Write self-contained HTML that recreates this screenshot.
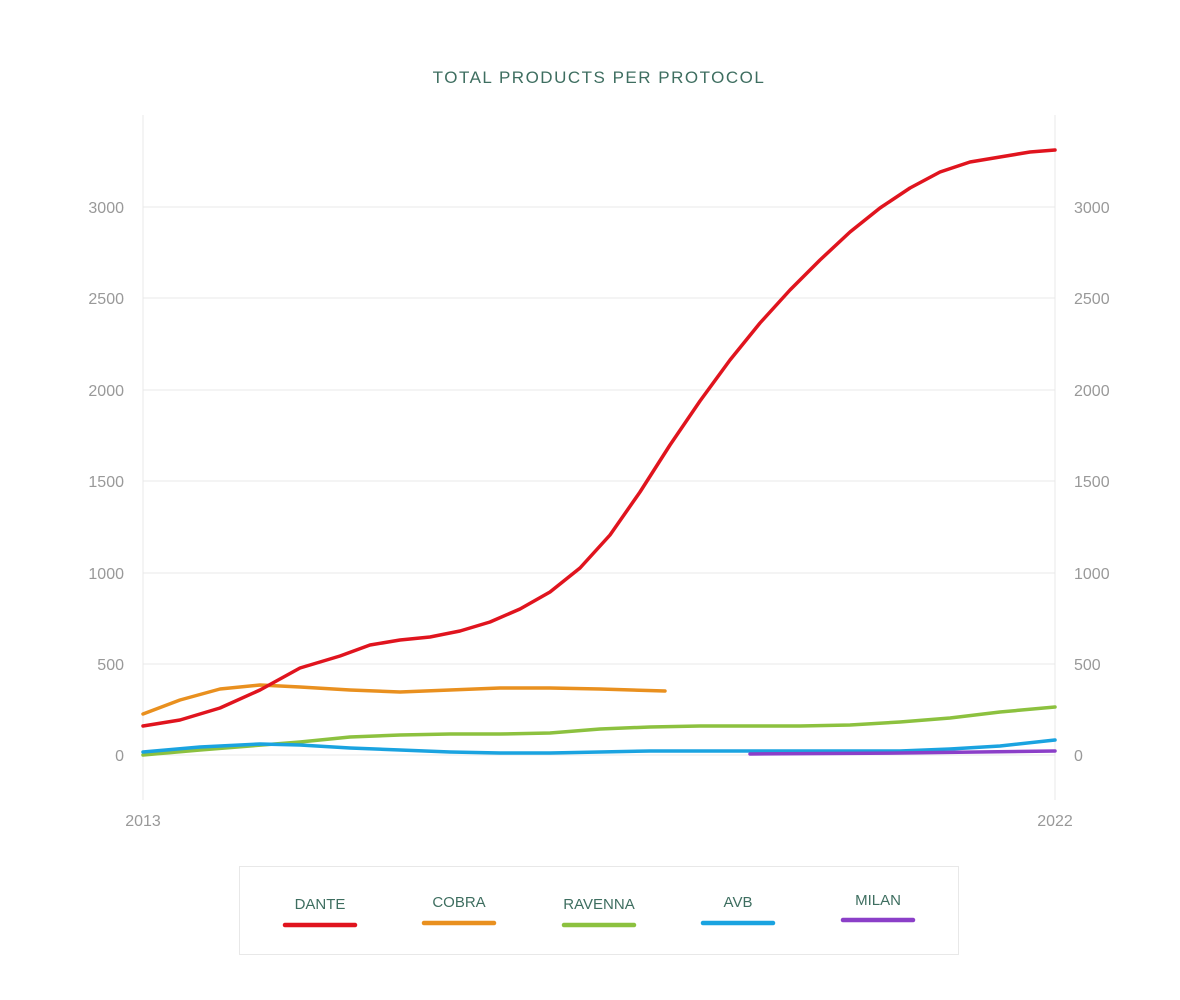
<!DOCTYPE html>
<html><head><style>
body{margin:0;background:#fff;}
svg{display:block;font-family:"Liberation Sans",sans-serif;}
</style></head><body>
<svg width="1180" height="1000" viewBox="0 0 1180 1000">
<text x="599" y="83" text-anchor="middle" font-size="17" letter-spacing="1.5" fill="#3e6e60">TOTAL PRODUCTS PER PROTOCOL</text>
<g stroke="#e8e8e8" stroke-width="1">
<line x1="143" y1="115" x2="143" y2="800"/>
<line x1="1055" y1="115" x2="1055" y2="800"/>
<line x1="143" y1="207" x2="1055" y2="207"/>
<line x1="143" y1="298" x2="1055" y2="298"/>
<line x1="143" y1="390" x2="1055" y2="390"/>
<line x1="143" y1="481" x2="1055" y2="481"/>
<line x1="143" y1="573" x2="1055" y2="573"/>
<line x1="143" y1="664" x2="1055" y2="664"/>
<line x1="143" y1="755" x2="1055" y2="755"/>
</g>
<g fill="#999" font-size="16">
<g text-anchor="end">
<text x="124" y="213">3000</text><text x="124" y="304">2500</text><text x="124" y="396">2000</text>
<text x="124" y="487">1500</text><text x="124" y="579">1000</text><text x="124" y="670">500</text><text x="124" y="761">0</text>
</g>
<text x="1074" y="213">3000</text><text x="1074" y="304">2500</text><text x="1074" y="396">2000</text>
<text x="1074" y="487">1500</text><text x="1074" y="579">1000</text><text x="1074" y="670">500</text><text x="1074" y="761">0</text>
<text x="143" y="826" text-anchor="middle">2013</text>
<text x="1055" y="826" text-anchor="middle">2022</text>
</g>
<g fill="none" stroke-width="3.5" stroke-linejoin="round" stroke-linecap="round">
<polyline stroke="#8cc13f" points="143,755 200,750 250,746 300,742 350,737 400,735 450,734 500,734 550,733 600,729 650,727 700,726 750,726 800,726 850,725 900,722 950,718 1000,712 1055,707"/>
<polyline stroke="#1aa3e0" points="143,752 200,747 260,744 300,745 350,748 400,750 450,752 500,753 550,753 600,752 650,751 700,751 750,751 800,751 850,751 900,751 950,749 1000,746 1055,740"/>
<polyline stroke="#8b3fc8" points="750,754 900,753 1055,751"/>
<polyline stroke="#e9901f" points="143,714 180,700 220,689 260,685 300,687 350,690 400,692 450,690 500,688 550,688 600,689 665,691"/>
<polyline stroke="#e0141e" points="143,726 180,720 220,708 260,690 300,668 340,656 370,645 400,640 430,637 460,631 490,622 520,609 550,592 580,568 610,535 640,492 670,445 700,401 730,360 760,323 790,290 820,260 850,232 880,208 910,188 940,172 970,162 1000,157 1030,152 1055,150"/>
</g>
<rect x="239.5" y="866.5" width="719" height="88" fill="none" stroke="#e8e8e8"/>
<g font-size="15" fill="#3e6e60" text-anchor="middle">
<text x="320" y="909">DANTE</text><text x="459" y="907">COBRA</text><text x="599" y="909">RAVENNA</text>
<text x="738" y="907">AVB</text><text x="878" y="905">MILAN</text>
</g>
<g stroke-width="4.5" stroke-linecap="round">
<line x1="285" y1="925" x2="355" y2="925" stroke="#e0141e"/>
<line x1="424" y1="923" x2="494" y2="923" stroke="#e9901f"/>
<line x1="564" y1="925" x2="634" y2="925" stroke="#8cc13f"/>
<line x1="703" y1="923" x2="773" y2="923" stroke="#1aa3e0"/>
<line x1="843" y1="920" x2="913" y2="920" stroke="#8b3fc8"/>
</g>
</svg>
</body></html>
